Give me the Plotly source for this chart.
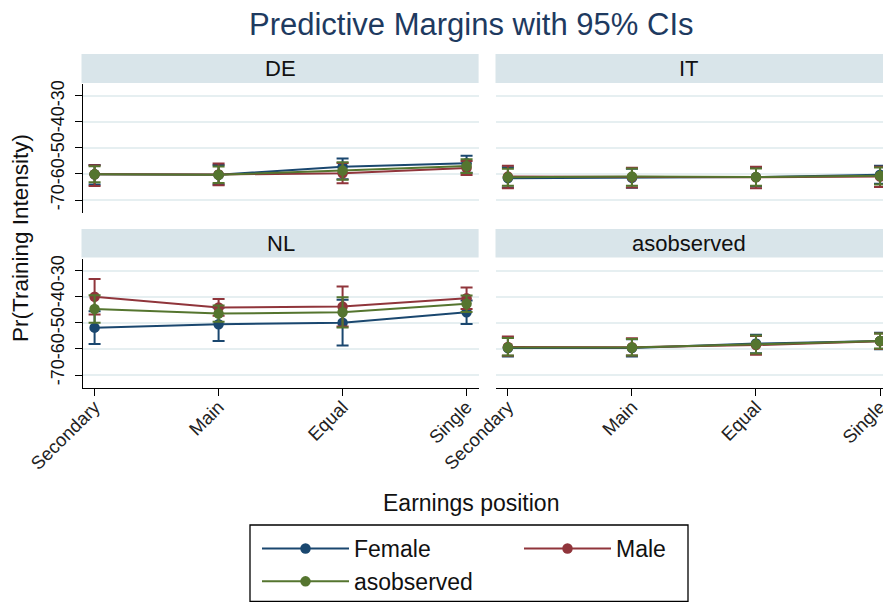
import plotly.graph_objects as go

categories = ["Secondary", "Main", "Equal", "Single"]
panels = ["DE", "IT", "NL", "asobserved"]
series = ["Female", "Male", "asobserved"]
y_ticks = [-70, -60, -50, -40, -30]
y_tick_labels = ["-70", "-60", "-50", "-40", "-30"]

# Point estimates and 95% CI bounds, per panel and series
de_female = [-60.1, -60.3, -57.2, -55.9]
de_female_lo = [-64.0, -64.0, -62.0, -59.5]
de_female_hi = [-56.5, -56.5, -54.0, -53.0]
de_male = [-60.1, -60.2, -59.7, -57.7]
de_male_lo = [-64.6, -64.3, -63.6, -60.4]
de_male_hi = [-56.6, -56.0, -55.8, -55.0]
de_obs = [-60.1, -60.3, -58.7, -56.9]
de_obs_lo = [-63.2, -63.5, -62.2, -59.6]
de_obs_hi = [-57.0, -57.1, -55.5, -54.3]

it_female = [-61.6, -61.5, -61.2, -60.3]
it_female_lo = [-65.2, -65.3, -64.8, -63.8]
it_female_hi = [-57.4, -58.0, -57.6, -56.8]
it_male = [-61.0, -61.2, -61.3, -61.0]
it_male_lo = [-65.5, -65.2, -65.5, -65.0]
it_male_hi = [-56.8, -57.6, -57.2, -57.2]
it_obs = [-61.3, -61.0, -61.2, -60.7]
it_obs_lo = [-64.5, -64.5, -64.5, -64.0]
it_obs_hi = [-58.0, -57.9, -57.9, -57.5]

nl_female = [-51.8, -50.5, -49.9, -45.9]
nl_female_lo = [-58.1, -56.9, -58.7, -50.4]
nl_female_hi = [-45.5, -44.1, -41.1, -41.4]
nl_male = [-39.9, -44.0, -43.7, -40.5]
nl_male_lo = [-46.7, -47.2, -51.4, -44.6]
nl_male_hi = [-33.1, -40.8, -36.0, -36.4]
nl_obs = [-44.6, -46.4, -45.9, -42.6]
nl_obs_lo = [-49.9, -49.5, -51.7, -45.8]
nl_obs_hi = [-39.3, -43.3, -40.1, -39.4]

ao_female = [-59.6, -59.6, -57.9, -56.9]
ao_female_lo = [-62.9, -62.9, -61.6, -60.1]
ao_female_hi = [-55.6, -56.3, -54.5, -53.8]
ao_male = [-59.2, -59.3, -58.5, -57.0]
ao_male_lo = [-62.6, -62.5, -62.2, -60.0]
ao_male_hi = [-55.2, -55.9, -55.0, -54.0]
ao_obs = [-59.4, -59.4, -58.2, -56.9]
ao_obs_lo = [-62.5, -62.5, -61.7, -59.8]
ao_obs_hi = [-55.8, -56.2, -54.8, -54.0]

data = {
    "DE": [(de_female, de_female_lo, de_female_hi), (de_male, de_male_lo, de_male_hi), (de_obs, de_obs_lo, de_obs_hi)],
    "IT": [(it_female, it_female_lo, it_female_hi), (it_male, it_male_lo, it_male_hi), (it_obs, it_obs_lo, it_obs_hi)],
    "NL": [(nl_female, nl_female_lo, nl_female_hi), (nl_male, nl_male_lo, nl_male_hi), (nl_obs, nl_obs_lo, nl_obs_hi)],
    "asobserved": [(ao_female, ao_female_lo, ao_female_hi), (ao_male, ao_male_lo, ao_male_hi), (ao_obs, ao_obs_lo, ao_obs_hi)],
}

colors = ["#1a476f", "#90353b", "#55752f"]
legend_of_series = ["legend", "legend2", "legend"]
FONT = "Liberation Sans, Arial, sans-serif"

W, H = 883, 602
def px_x(p):
    return p / W
def px_y(p):
    return 1 - p / H

col_dom = [(px_x(83), px_x(478.6)), (px_x(495.5), 1.0)]
row_dom = [(px_y(213), px_y(84)), (px_y(388), px_y(259))]
strip_rows = [(54, 83), (229, 257.5)]
x_ranges = [[-0.0935, 3.097], [-0.1, 3.024]]
y_range = [-75, -25.4]

fig = go.Figure()
for i, panel in enumerate(panels):
    r, c = divmod(i, 2)
    ax = "" if i == 0 else str(i + 1)
    for s, name in enumerate(series):
        y, lo, hi = data[panel][s]
        fig.add_trace(go.Scatter(
            x=categories, y=y, name=name, mode="lines+markers",
            xaxis="x" + ax, yaxis="y" + ax,
            line=dict(color=colors[s], width=2),
            marker=dict(color=colors[s], size=10.5),
            error_y=dict(type="data", symmetric=False,
                         array=[h - v for h, v in zip(hi, y)],
                         arrayminus=[v - l for l, v in zip(lo, y)],
                         color=colors[s], thickness=2, width=6),
            showlegend=(i == 0), legend=legend_of_series[s],
        ))
    xa = dict(domain=list(col_dom[c]), anchor="y" + ax, type="category",
              range=x_ranges[c], showgrid=False, zeroline=False, automargin=False,
              categoryorder="array", categoryarray=categories)
    if r == 1:
        xa.update(showline=True, linecolor="black", linewidth=1, ticks="outside",
                  ticklen=7, tickcolor="black", tickangle=-45, ticklabelstandoff=-7,
                  tickfont=dict(size=18.5, color="#222", family=FONT))
    else:
        xa.update(showticklabels=False, showline=False)
    ya = dict(domain=list(row_dom[r]), anchor="x" + ax, range=y_range,
              tickvals=y_ticks, ticktext=y_tick_labels, showgrid=True,
              gridcolor="#e6eff1", gridwidth=1.5, zeroline=False, automargin=False)
    if c == 0:
        ya.update(showline=True, linecolor="black", linewidth=1, ticks="outside",
                  ticklen=7, tickcolor="black", tickangle=-90, ticklabelstandoff=4,
                  tickfont=dict(size=18, color="#111", family=FONT))
    else:
        ya.update(showticklabels=False, showline=False)
    fig.layout["xaxis" + ax] = xa
    fig.layout["yaxis" + ax] = ya

    # strip header
    x0, x1 = col_dom[c]
    top, bot = strip_rows[r]
    fig.add_shape(type="rect", xref="paper", yref="paper",
                  x0=x0 - (1.5 / W if c == 0 else 0), x1=x1, y0=px_y(bot), y1=px_y(top),
                  fillcolor="#d9e5ea", line=dict(width=0), layer="below")
    fig.add_annotation(x=(x0 + x1) / 2 if c == 0 else px_x(689), y=px_y((top + bot) / 2),
                       xref="paper", yref="paper", text=panel, showarrow=False,
                       font=dict(size=22, color="#111", family=FONT),
                       xanchor="center", yanchor="middle")

fig.add_annotation(x=px_x(471), y=px_y(24), xref="paper", yref="paper",
                   text="Predictive Margins with 95% CIs", showarrow=False,
                   font=dict(size=31, color="#1e3a60", family=FONT),
                   xanchor="center", yanchor="middle")
fig.add_annotation(x=px_x(471), y=px_y(503), xref="paper", yref="paper",
                   text="Earnings position", showarrow=False,
                   font=dict(size=23, color="#111", family=FONT),
                   xanchor="center", yanchor="middle")
fig.add_annotation(x=px_x(20), y=px_y(238), xref="paper", yref="paper",
                   text="Pr(Training Intensity)", showarrow=False, textangle=-90,
                   font=dict(size=22.5, color="#111", family=FONT),
                   xanchor="center", yanchor="middle")

# legend frame
fig.add_shape(type="rect", xref="paper", yref="paper",
              x0=px_x(250), x1=px_x(688), y0=px_y(601.5), y1=px_y(525),
              line=dict(color="black", width=1.3), fillcolor="rgba(0,0,0,0)", layer="below")

legend_common = dict(orientation="v", xanchor="left", yanchor="top",
                     borderwidth=0, bgcolor="rgba(0,0,0,0)", itemwidth=87,
                     tracegroupgap=0,
                     font=dict(size=23, color="#111", family=FONT))
fig.update_layout(
    width=W, height=H,
    margin=dict(l=0, r=0, t=0, b=0, autoexpand=False),
    paper_bgcolor="white", plot_bgcolor="white",
    showlegend=True,
    legend=dict(x=px_x(257), y=px_y(527), **legend_common),
    legend2=dict(x=px_x(519), y=px_y(527), **legend_common),
)

fig.write_html("out.html", config={"displayModeBar": False},
               post_script="document.body.style.margin='0';document.body.style.padding='0';")
